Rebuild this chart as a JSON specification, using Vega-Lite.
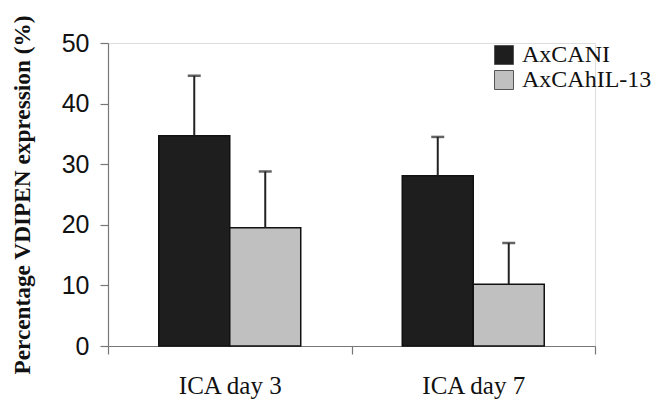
{
  "$schema": "https://vega.github.io/schema/vega-lite/v6.json",
  "autosize": {"type": "none"},
  "padding": {"left": 108, "top": 43, "right": 57, "bottom": 56},
  "width": 487,
  "height": 303,
  "background": "white",
  "data": {
    "values": [
      {"day": "ICA day 3", "group": "AxCANI", "value": 34.7, "upper": 44.6},
      {"day": "ICA day 3", "group": "AxCAhIL-13", "value": 19.5, "upper": 28.8},
      {"day": "ICA day 7", "group": "AxCANI", "value": 28.1, "upper": 34.5},
      {"day": "ICA day 7", "group": "AxCAhIL-13", "value": 10.2, "upper": 17.0}
    ]
  },
  "encoding": {
    "x": {
      "field": "day", "type": "nominal", "sort": null,
      "scale": {"paddingInner": 0, "paddingOuter": 0},
      "axis": {
        "title": null, "labelAngle": 0, "tickBand": "extent",
        "domainColor": "#777", "tickColor": "#777", "tickSize": 8, "domainWidth": 1.2, "tickWidth": 1.2,
        "labelFont": "Liberation Serif", "labelFontSize": 25, "labelColor": "#111", "labelPadding": 19
      }
    },
    "xOffset": {
      "field": "group", "type": "nominal", "sort": ["AxCANI", "AxCAhIL-13"],
      "scale": {"paddingInner": 0, "paddingOuter": 0.715}
    }
  },
  "layer": [
    {
      "mark": {"type": "bar", "stroke": "#111", "strokeWidth": 1.5},
      "encoding": {
        "y": {
          "field": "value", "type": "quantitative",
          "scale": {"domain": [0, 50], "nice": false},
          "axis": {
            "title": "Percentage VDIPEN expression (%)",
            "titleFont": "Liberation Serif", "titleFontSize": 23.3, "titleFontWeight": "bold", "titleColor": "#111",
            "titlePadding": 27,
            "values": [0, 10, 20, 30, 40, 50], "grid": false,
            "domainColor": "#777", "tickColor": "#777", "tickSize": 8, "domainWidth": 1.2, "tickWidth": 1.2,
            "labelFont": "Liberation Sans", "labelFontSize": 25, "labelColor": "#111", "labelPadding": 11
          }
        },
        "fill": {
          "field": "group", "type": "nominal", "sort": ["AxCANI", "AxCAhIL-13"],
          "scale": {"domain": ["AxCANI", "AxCAhIL-13"], "range": ["#1e1e1e", "#c0c0c0"]},
          "legend": {
            "title": null, "orient": "none", "legendX": 384, "legendY": 0, "padding": 0,
            "symbolType": "square", "symbolSize": 361, "symbolStrokeColor": "#555", "symbolStrokeWidth": 1,
            "labelFont": "Liberation Serif", "labelFontSize": 24, "labelColor": "#111", "labelOffset": 6,
            "rowPadding": 1, "labelLimit": 300
          }
        }
      }
    },
    {
      "mark": {"type": "rule", "stroke": "#222", "strokeWidth": 2},
      "encoding": {
        "y": {"field": "value", "type": "quantitative"},
        "y2": {"field": "upper"}
      }
    },
    {
      "mark": {"type": "tick", "color": "#222", "thickness": 2.5, "size": 13},
      "encoding": {
        "y": {"field": "upper", "type": "quantitative"}
      }
    }
  ]
}
